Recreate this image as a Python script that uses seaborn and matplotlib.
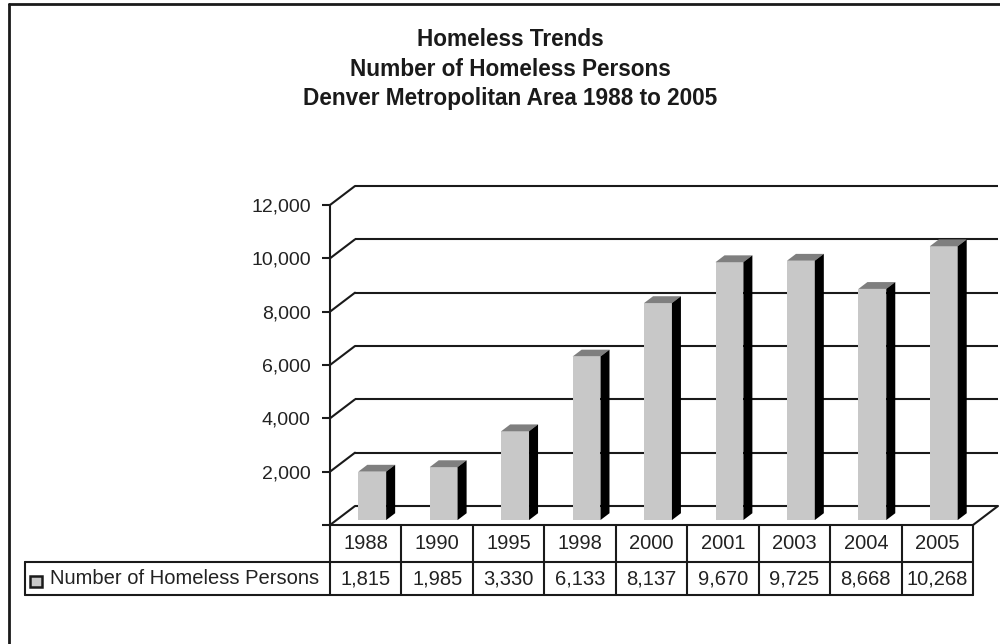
import numpy as np
import pandas as pd
import seaborn as sns
import matplotlib.pyplot as plt
from matplotlib.patches import Polygon, Rectangle
from matplotlib.lines import Line2D

# data
years = ['1988', '1990', '1995', '1998', '2000', '2001', '2003', '2004', '2005']
homeless = [1815, 1985, 3330, 6133, 8137, 9670, 9725, 8668, 10268]
y_ticks = [0, 2000, 4000, 6000, 8000, 10000, 12000]
series_label = 'Number of Homeless Persons'
title_lines = ['Homeless Trends',
               'Number of Homeless Persons',
               'Denver Metropolitan Area 1988 to 2005']

sns.set_style('white')
plt.rcParams['font.family'] = ['Liberation Sans', 'DejaVu Sans']

LINE = '#1a1a1a'
TXT = '#222222'
FACE = '#c8c8c8'
TOP = '#7f7f7f'
SIDE = '#000000'
LW = 1.5

# oblique "3d" depth: shift per unit depth, in data units
DX = 0.35      # categories
DY = 712.5     # value units
D0, D1 = 0.26, 0.62   # bar front / back depth
BAR_W = 0.39

fig = plt.figure(figsize=(10, 6.44), dpi=100)
ax = fig.add_axes([0.330, 119 / 644, 0.643, 320 / 644])

df = pd.DataFrame({'year': years, 'count': homeless})
sns.barplot(data=df, x='year', y='count', color=FACE, saturation=1,
            width=BAR_W, linewidth=0, errorbar=None, ax=ax, zorder=3)

ax.set_xlim(-0.5, len(years) - 0.5)
ax.set_ylim(0, 12000)
left, right = -0.5, len(years) - 0.5

# back wall gridlines and left wall diagonals
for t in y_ticks:
    ax.plot([left + DX, right + DX], [t + DY, t + DY], color=LINE, lw=LW,
            clip_on=False, zorder=1, solid_capstyle='butt')
    ax.plot([left, left + DX], [t, t + DY], color=LINE, lw=LW,
            clip_on=False, zorder=1)
# floor right edge
ax.plot([right, right + DX], [0, DY], color=LINE, lw=LW, clip_on=False, zorder=1)

# 3d bars: shift front face, add top and side faces
for p, v in zip(ax.patches, homeless):
    x0, w = p.get_x(), p.get_width()
    p.set_x(x0 + D0 * DX)
    p.set_y(D0 * DY)
    xa, xb = x0 + D0 * DX, x0 + w + D0 * DX
    top = [(xa, v + D0 * DY), (xb, v + D0 * DY),
           (x0 + w + D1 * DX, v + D1 * DY), (x0 + D1 * DX, v + D1 * DY)]
    side = [(xb, D0 * DY), (xb, v + D0 * DY),
            (x0 + w + D1 * DX, v + D1 * DY), (x0 + w + D1 * DX, D1 * DY)]
    ax.add_patch(Polygon(top, closed=True, facecolor=TOP, edgecolor='none',
                         clip_on=False, zorder=3))
    ax.add_patch(Polygon(side, closed=True, facecolor=SIDE, edgecolor='none',
                         clip_on=False, zorder=3))

for s in ['top', 'right']:
    ax.spines[s].set_visible(False)
for s in ['left', 'bottom']:
    ax.spines[s].set_visible(True)
    ax.spines[s].set_color(LINE)
    ax.spines[s].set_linewidth(LW)
    ax.spines[s].set_zorder(4)

ax.set_yticks(y_ticks)
ax.set_yticklabels(['' if t == 0 else f'{t:,}' for t in y_ticks])
ax.tick_params(axis='y', left=True, length=5.8, width=LW, color=LINE,
               pad=8, labelsize=14, labelcolor=TXT)
ax.tick_params(axis='x', bottom=False, labelbottom=False)
ax.set_xlabel('')
ax.set_ylabel('')

# data table below the plot
tr = ax.get_xaxis_transform()
row1, row2 = -0.1156, -0.219
label_left = left - 4.27
for i in range(len(years) + 1):
    ax.plot([left + i, left + i], [0, row2], color=LINE, lw=LW,
            transform=tr, clip_on=False)
ax.plot([label_left, right], [row1, row1], color=LINE, lw=LW, transform=tr, clip_on=False)
ax.plot([label_left, right], [row2, row2], color=LINE, lw=LW, transform=tr, clip_on=False)
ax.plot([label_left, label_left], [row1, row2], color=LINE, lw=LW, transform=tr, clip_on=False)

for i, (yr, v) in enumerate(zip(years, homeless)):
    ax.text(i, row1 / 2, yr, transform=tr, ha='center', va='center',
            fontsize=14.5, color=TXT)
    ax.text(i, (row1 + row2) / 2, f'{v:,}', transform=tr, ha='center',
            va='center', fontsize=14.5, color=TXT)

ax.add_patch(Rectangle((label_left + 0.075, -0.195), 0.165, 0.037, transform=tr,
                       facecolor=FACE, edgecolor=LINE, lw=1.8, clip_on=False))
ax.text(label_left + 0.35, (row1 + row2) / 2, series_label, transform=tr,
        ha='left', va='center', fontsize=14.5, color=TXT)

# titles
for k, line in enumerate(title_lines):
    fig.text(0.5105, 1 - (39 + 30 * k) / 644, line, ha='center', va='center',
             fontsize=16.3, fontweight='bold', color=LINE)

# outer frame (left and top edges visible)
fig.add_artist(Line2D([9 / 1000, 9 / 1000], [0, 1 - 4 / 644], color=LINE, lw=2,
                      transform=fig.transFigure))
fig.add_artist(Line2D([9 / 1000, 1], [1 - 4 / 644, 1 - 4 / 644], color=LINE, lw=2,
                      transform=fig.transFigure))

fig.savefig('out.png', dpi=100)
